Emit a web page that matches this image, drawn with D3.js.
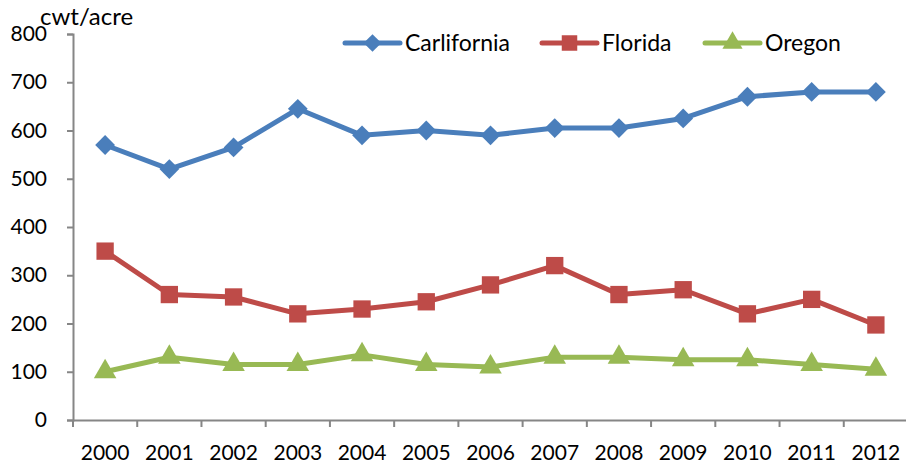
<!DOCTYPE html>
<html>
<head>
<meta charset="utf-8">
<script src="https://cdn.jsdelivr.net/npm/d3@7"></script>
<style>
  body { margin: 0; background: #fff; }
  text { font-family: Lato, "Open Sans", sans-serif; fill: #000; }
</style>
</head>
<body>
<div class="chart"></div>
<script>
// data
const years = ['2000','2001','2002','2003','2004','2005','2006','2007','2008','2009','2010','2011','2012'];
const california = [570, 520, 565, 645, 590, 600, 590, 605, 605, 625, 670, 680, 680];
const florida = [350, 260, 255, 220, 230, 245, 280, 320, 260, 270, 220, 250, 197];
const oregon = [100, 130, 115, 115, 135, 115, 110, 130, 130, 125, 125, 115, 105];
const yTicks = [0, 100, 200, 300, 400, 500, 600, 700, 800];
const seriesNames = ['Carlifornia', 'Florida', 'Oregon'];

const width = 906;
const height = 467;

const svg = d3.select('.chart').append('svg')
    .attr('width', width)
    .attr('height', height);

const x = d3.scaleBand()
    .domain(years)
    .range([73, 908]);
const y = d3.scaleLinear()
    .domain([0, 800])
    .range([420, 34]);

const series = [
    {name: seriesNames[0], values: california, color: '#4A7EBB', shape: d3.symbolDiamond2},
    {name: seriesNames[1], values: florida, color: '#BE4B48', shape: d3.symbolSquare},
    {name: seriesNames[2], values: oregon, color: '#98B954', shape: d3.symbolTriangle}
];
const symbolSize = {
    [seriesNames[0]]: 250,
    [seriesNames[1]]: 300,
    [seriesNames[2]]: 220
};

// axes
const axisColor = '#868686';
const yAxis = svg.append('g')
    .attr('transform', 'translate(73,0)')
    .call(d3.axisLeft(y).tickValues(yTicks).tickSize(6));
const xAxis = svg.append('g')
    .attr('transform', 'translate(0,420)')
    .call(d3.axisBottom(x).tickSize(0).tickPadding(25));
[yAxis, xAxis].forEach(g => {
    g.select('.domain').attr('stroke', axisColor).attr('stroke-width', 2);
    g.selectAll('.tick line').attr('stroke', axisColor).attr('stroke-width', 2);
    g.selectAll('text').style('font-size', '21px').attr('fill', '#000');
});
yAxis.selectAll('text').attr('text-anchor', 'end').attr('x', -26);
// x ticks at band boundaries
svg.append('g')
    .selectAll('line')
    .data(years)
    .enter()
    .append('line')
    .attr('x1', d => x(d))
    .attr('x2', d => x(d))
    .attr('y1', 420)
    .attr('y2', 427)
    .attr('stroke', axisColor)
    .attr('stroke-width', 2);

svg.append('text')
    .attr('x', 40)
    .attr('y', 25)
    .style('font-size', '24px')
    .text('cwt/acre');

// lines
const line = d3.line()
    .x((d, i) => x(years[i]) + x.bandwidth() / 2)
    .y(d => y(d));

series.forEach(s => {
    svg.append('path')
        .datum(s.values)
        .attr('d', line)
        .attr('fill', 'none')
        .attr('stroke', s.color)
        .attr('stroke-width', 5)
        .attr('stroke-linejoin', 'round');
    svg.append('g')
        .selectAll('path')
        .data(s.values)
        .enter()
        .append('path')
        .attr('transform', (d, i) => `translate(${x(years[i]) + x.bandwidth() / 2},${y(d)})`)
        .attr('d', d3.symbol().type(s.shape).size(symbolSize[s.name]))
        .attr('fill', s.color);
});

// legend
const legendX = [345, 542, 705];
const legend = svg.append('g')
    .selectAll('g')
    .data(series)
    .enter()
    .append('g')
    .attr('transform', (d, i) => `translate(${legendX[i]},43)`);
legend.append('line')
    .attr('x1', 0).attr('x2', 55)
    .attr('stroke', d => d.color)
    .attr('stroke-width', 5)
    .attr('stroke-linecap', 'round');
legend.append('path')
    .attr('transform', 'translate(27.5,0)')
    .attr('d', d => d3.symbol().type(d.shape).size(symbolSize[d.name] * 0.8)())
    .attr('fill', d => d.color);
legend.append('text')
    .attr('x', 60)
    .attr('y', 8)
    .style('font-size', '23px')
    .text(d => d.name);
</script>
</body>
</html>
